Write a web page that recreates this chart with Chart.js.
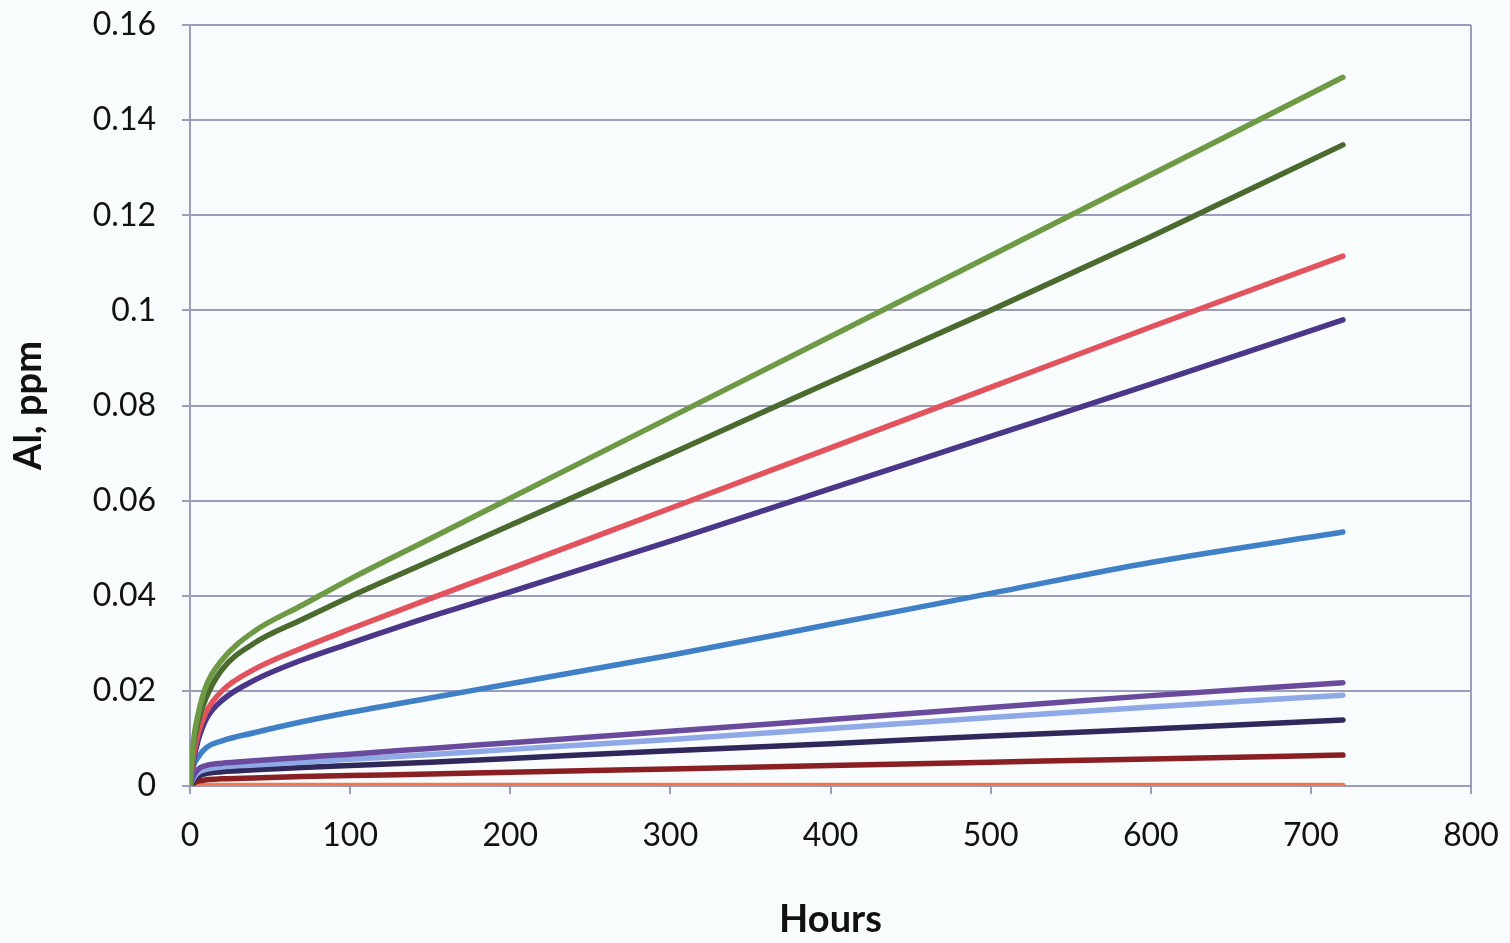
<!DOCTYPE html>
<html>
<head>
<meta charset="utf-8">
<script src="https://cdn.jsdelivr.net/npm/chart.js@4"></script>
<style>
  html, body { margin: 0; padding: 0; background: #f9fcfc; }
  #wrap { width: 1510px; height: 943px; }
</style>
</head>
<body>
<div id="wrap"><canvas id="myChart"></canvas></div>
<script>
const hours = [0, 2, 5, 10, 20, 40, 70, 100, 150, 200, 300, 400, 500, 600, 720];

const greenTop  = [0, 0.009, 0.015, 0.021, 0.0265, 0.0325, 0.038, 0.0435, 0.052, 0.0605, 0.0775, 0.0945, 0.1115, 0.1285, 0.149];
const greenDark = [0, 0.008, 0.0135, 0.0185, 0.0245, 0.030, 0.035, 0.0398, 0.0473, 0.0548, 0.0698, 0.085, 0.100, 0.1155, 0.1348];
const red       = [0, 0.006, 0.011, 0.0155, 0.020, 0.0245, 0.029, 0.033, 0.0394, 0.0457, 0.0584, 0.0711, 0.0838, 0.0965, 0.1114];
const purple    = [0, 0.005, 0.0095, 0.014, 0.018, 0.0222, 0.0265, 0.030, 0.0356, 0.0408, 0.0515, 0.0625, 0.0735, 0.0845, 0.098];
const blue      = [0, 0.004, 0.006, 0.008, 0.0095, 0.0112, 0.0135, 0.0155, 0.0185, 0.0215, 0.0275, 0.034, 0.0405, 0.047, 0.0534];
const violet    = [0, 0.002, 0.0035, 0.0043, 0.0048, 0.0053, 0.006, 0.0067, 0.0079, 0.0091, 0.0115, 0.014, 0.0165, 0.019, 0.0217];
const lightBlue = [0, 0.0015, 0.0028, 0.0035, 0.004, 0.0044, 0.005, 0.0056, 0.0066, 0.0077, 0.0098, 0.0121, 0.0144, 0.0166, 0.0191];
const navy      = [0, 0.001, 0.002, 0.0026, 0.003, 0.0034, 0.0039, 0.0043, 0.005, 0.0058, 0.0074, 0.0089, 0.0105, 0.012, 0.0139];
const darkRed   = [0, 0.0005, 0.001, 0.0013, 0.0015, 0.0017, 0.002, 0.0022, 0.0025, 0.0029, 0.0036, 0.0043, 0.005, 0.0057, 0.0065];
const orange    = [0, 0.0001, 0.0001, 0.0001, 0.0001, 0.0001, 0.0001, 0.0001, 0.0001, 0.0001, 0.0001, 0.0001, 0.0001, 0.0001, 0.0001];

const series = [
    ['greenTop', greenTop, '#6f9a45'],
    ['greenDark', greenDark, '#4a6a2e'],
    ['red', red, '#e2535e'],
    ['purple', purple, '#4b3789'],
    ['blue', blue, '#3f80c6'],
    ['violet', violet, '#6a4a9c'],
    ['lightBlue', lightBlue, '#8fa8e6'],
    ['navy', navy, '#30275a'],
    ['darkRed', darkRed, '#8a1f24'],
    ['orange', orange, '#f07a50']
];

const gridColor = '#9c9cbc';
const font = 'Lato, "Open Sans", sans-serif';

const ctx = document.getElementById('myChart').getContext('2d');
const myChart = new Chart(ctx, {
    type: 'line',
    data: {
        datasets: series.map(s => ({
            label: s[0],
            data: hours.map((h, i) => ({x: h, y: s[1][i]})),
            borderColor: s[2],
            backgroundColor: s[2],
            borderWidth: 5.5,
            pointRadius: 0,
            borderCapStyle: 'round',
            cubicInterpolationMode: 'monotone',
            fill: false
        }))
    },
    options: {
        responsive: true,
        maintainAspectRatio: false,
        animation: false,
        layout: {
            padding: {left: 0, right: 39, top: 25, bottom: 0}
        },
        plugins: {
            legend: {display: false},
            tooltip: {enabled: false}
        },
        scales: {
            x: {
                type: 'linear',
                min: 0,
                max: 800,
                ticks: {
                    stepSize: 100,
                    color: '#111',
                    padding: 22,
                    font: {family: font, size: 32}
                },
                grid: {
                    color: (c) => (c.tick && (c.tick.value === 0 || c.tick.value === 800)) ? gridColor : 'rgba(0,0,0,0)',
                    tickColor: gridColor,
                    tickLength: 8,
                    lineWidth: 2
                },
                border: {color: gridColor, width: 2},
                title: {
                    display: true,
                    text: 'Hours',
                    color: '#111',
                    font: {family: font, size: 38, weight: 'bold'},
                    padding: {top: 26, bottom: 0}
                },
                afterFit: (s) => {
                    s.height = 157;
                    s.paddingLeft = 0;
                    s.paddingRight = 0;
                }
            },
            y: {
                min: 0,
                max: 0.16,
                ticks: {
                    stepSize: 0.02,
                    color: '#111',
                    padding: 26,
                    font: {family: font, size: 32},
                    callback: (v) => String(Math.round(v * 100) / 100)
                },
                grid: {
                    color: gridColor,
                    tickColor: gridColor,
                    tickLength: 8,
                    lineWidth: 2
                },
                border: {color: gridColor, width: 2},
                title: {
                    display: true,
                    text: 'Al, ppm',
                    color: '#111',
                    font: {family: font, size: 38, weight: 'bold'},
                    padding: {top: 6, bottom: 10}
                },
                afterFit: (s) => {
                    s.width = 190;
                    s.paddingTop = 0;
                    s.paddingBottom = 0;
                }
            }
        }
    }
});
</script>
</body>
</html>
